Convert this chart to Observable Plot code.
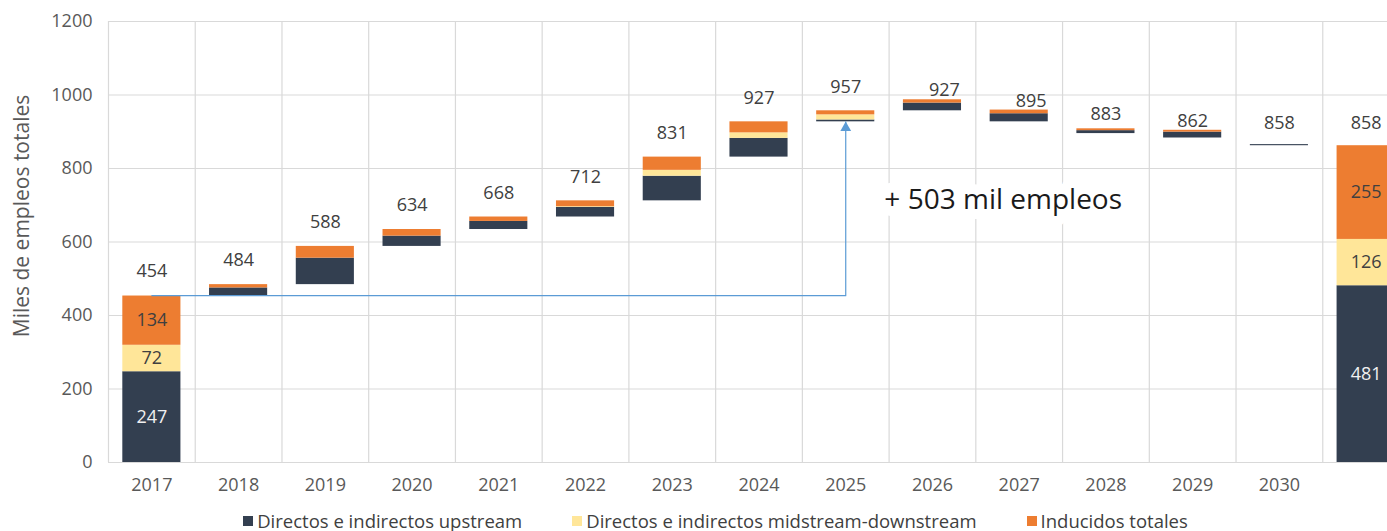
<!DOCTYPE html>
<html>
<head>
<meta charset="utf-8">
<script src="https://cdn.jsdelivr.net/npm/d3@7"></script>
<script src="https://cdn.jsdelivr.net/npm/@observablehq/plot@0.6"></script>
<style>
  body { margin: 0; background: #fff; overflow: hidden; font-family: "Open Sans", sans-serif; }
  #legend { display: flex; justify-content: center; gap: 50px; font-size: 18.5px; color: #404040;
            margin-left: 44px; margin-top: 3px; line-height: 20px; }
  .item { display: flex; align-items: center; gap: 4px; }
  .sw { width: 10px; height: 10px; display: inline-block; }
</style>
</head>
<body>
<div id="chart"></div>
<div id="legend"></div>
<script>
// ---- data ----
const years = ["2017","2018","2019","2020","2021","2022","2023","2024","2025","2026","2027","2028","2029","2030","Total"];
const upstream  = [247, 21, 72, 28, 22, 26, 67, 51,  5, 21, 22,  8, 16, 3, 481];
const midstream = [ 72,  0,  0,  0,  0,  2, 16, 15, 14,  0,  0,  0,  0, 0, 126];
const induced   = [134,  9, 32, 18, 12, 16, 36, 30, 11,  9, 10,  5,  5, 0, 255];
const totals    = [454, 484, 588, 634, 668, 712, 831, 927, 957, 927, 895, 883, 862, 858, 858];
const seriesNames = ["Directos e indirectos upstream", "Directos e indirectos midstream-downstream", "Inducidos totales"];
const seriesColors = ["#333f50", "#ffe699", "#ed7d31"];
const labelColors = ["#f0f0f0", "#404040", "#404040"];
const yTicks = [0, 200, 400, 600, 800, 1000, 1200];
const yLabel = "Miles de empleos totales";

// ---- build table ----
const last = years.length - 1;
const comps = [upstream, midstream, induced];
const segments = [];
const rows = [];
years.forEach((yr, i) => {
  const base = (i === 0 || i === last) ? 0 : totals[i - 1];
  let acc = base;
  comps.forEach((arr, k) => {
    const v = arr[i];
    segments.push({year: yr, series: seriesNames[k], k, value: v, y1: acc, y2: acc + v, mid: acc + v / 2,
                   labeled: (i === 0 || i === last)});
    acc += v;
  });
  rows.push({year: yr, total: totals[i], top: acc});
});

const x0 = 108, x1 = 1409;
const step = (x1 - x0) / years.length;
const connector = [
  {x: years[0], y: totals[0]},
  {x: years[8], y: totals[0]},
  {x: years[8], y: totals[7]}
];
const annotation = `+ ${totals[8] - totals[0]} mil empleos`;

const chart = Plot.plot({
  width: 1387,
  height: 508,
  marginTop: 21,
  marginBottom: 46,
  marginLeft: 108,
  marginRight: 0,
  style: {fontFamily: "Open Sans, sans-serif", fontSize: "18px", color: "#595959", overflow: "hidden", background: "#fff"},
  x: {type: "band", domain: years, range: [x0, x1], round: false, paddingInner: 0.33, paddingOuter: 0.165,
      tickSize: 0, tickPadding: 16, tickFormat: d => d === "Total" ? "" : d, label: null},
  y: {domain: [0, 1200], ticks: yTicks, tickSize: 0, tickPadding: 16, tickFormat: d3.format("d"), label: null},
  color: {domain: seriesNames, range: seriesColors},
  marks: [
    Plot.ruleY(yTicks, {stroke: "#d9d9d9", strokeWidth: 1.2}),
    Plot.ruleX(years, {x: d => d, y1: 0, y2: 1200, dx: -step / 2, stroke: "#d9d9d9", strokeWidth: 1.2}),
    Plot.barY(segments.filter(d => d.value > 0), {x: "year", y1: "y1", y2: "y2", fill: "series"}),
    Plot.line(connector, {x: "x", y: "y", stroke: "#5b9bd5", strokeWidth: 1.2}),
    Plot.dot([connector[2]], {x: "x", y: "y", symbol: "triangle", r: 4, fill: "#5b9bd5", dy: 6}),
    Plot.text(rows.filter(d => d.top - d.total <= 50), {x: "year", y: "total", text: d => String(d.total),
      dy: -24, fontSize: 18, fill: "#404040"}),
    Plot.text(rows.filter(d => d.top - d.total > 50), {x: "year", y: "total", text: d => String(d.total),
      dy: -32, dx: 12, fontSize: 18, fill: "#404040"}),
    Plot.text(segments.filter(d => d.labeled), {x: "year", y: "mid", text: d => String(d.value),
      fontSize: 18, fill: d => labelColors[d.k]}),
    Plot.text([annotation], {x: () => years[10], y: () => 715, text: d => d, dx: -16, fontSize: 28,
      fill: "#1a1a1a", stroke: "#fff", strokeWidth: 20, paintOrder: "stroke"}),
    Plot.text([yLabel], {frameAnchor: "left", rotate: -90, dx: -86, dy: -26, text: d => d,
      textAnchor: "middle", fontSize: 21, fill: "#595959"})
  ]
});
document.getElementById("chart").appendChild(chart);

const legend = document.getElementById("legend");
seriesNames.forEach((n, k) => {
  const it = document.createElement("div");
  it.className = "item";
  const sw = document.createElement("span");
  sw.className = "sw";
  sw.style.background = seriesColors[k];
  const t = document.createElement("span");
  t.textContent = n;
  it.appendChild(sw); it.appendChild(t);
  legend.appendChild(it);
});
</script>
</body>
</html>
